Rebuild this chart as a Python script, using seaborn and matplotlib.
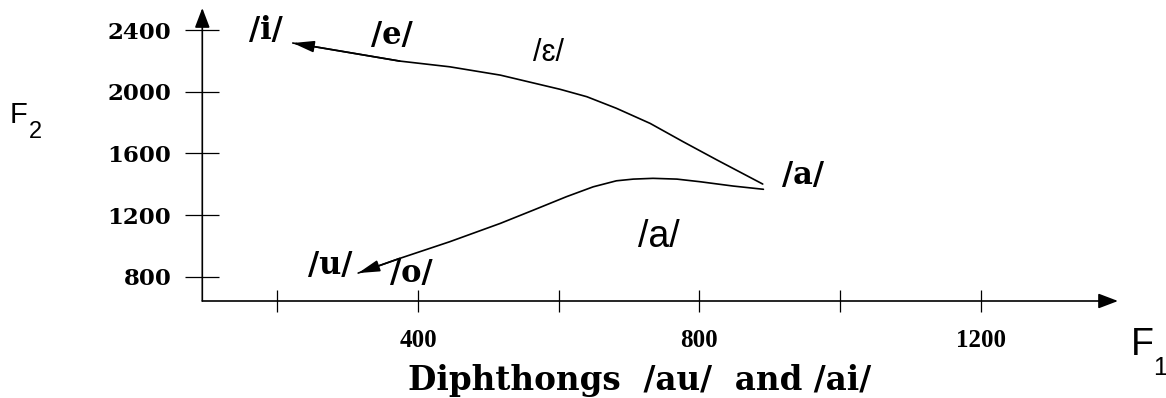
import matplotlib
matplotlib.use("Agg")
import matplotlib.pyplot as plt
import seaborn as sns

# Formant trajectories (Hz), each running from the /a/ onset toward its glide target
ai_f1 = [890, 825, 777, 730, 682, 640, 602, 517, 445, 374, 222]
ai_f2 = [1402, 1558, 1676, 1795, 1893, 1968, 2016, 2108, 2162, 2199, 2316]
au_f1 = [891, 848, 801, 768, 734, 706, 682, 649, 611, 564, 517, 445, 374, 315]
au_f2 = [1368, 1389, 1417, 1434, 1439, 1434, 1423, 1384, 1320, 1233, 1147, 1028, 920, 825]

x_ticks = [200, 400, 600, 800, 1000, 1200]
x_tick_labels = ["", "400", "", "800", "", "1200"]
y_ticks = [800, 1200, 1600, 2000, 2400]
y_tick_labels = ["800", "1200", "1600", "2000", "2400"]

# Vowel labels placed in the F1/F2 plane
vowel_text = ["/i/", "/e/", "/ɛ/", "/a/", "/a/", "/u/", "/o/"]
vowel_f1 = [184, 363, 586, 947, 743, 275, 391]
vowel_f2 = [2400, 2364, 2254, 1460, 1062, 877, 819]
vowel_bold = [True, True, False, True, False, True, True]
vowel_size = [22, 22, 22, 22, 27, 22, 22]

x_label = "Diphthongs  /au/  and /ai/"

sns.set_theme(style="white")
plt.rcParams["font.family"] = ["DejaVu Serif", "DejaVu Sans"]
plt.rcParams.update({"text.color": "black", "axes.labelcolor": "black",
                     "xtick.color": "black", "ytick.color": "black"})

W, H = 1166, 398
fig = plt.figure(figsize=(W / 100, H / 100), dpi=100)
ax = fig.add_axes([202.3 / W, 1 - 301 / H, (1118 - 202.3) / W, (301 - 8) / H])
ax.set_xlim(93.4, 1395)
ax.set_ylim(644, 2543)
for s in ax.spines.values():
    s.set_visible(False)

# Axes drawn as arrows
arrow_kw = dict(arrowstyle="-|>,head_length=1.0,head_width=0.38", color="black",
                lw=1.2, shrinkA=0, shrinkB=0, mutation_scale=12)
ax.annotate("", xy=(1, 0), xytext=(0, 0), xycoords="axes fraction",
            textcoords="axes fraction", arrowprops=arrow_kw, annotation_clip=False)
ax.annotate("", xy=(0, 1), xytext=(0, 0), xycoords="axes fraction",
            textcoords="axes fraction", arrowprops=arrow_kw, annotation_clip=False)

ax.set_xticks(x_ticks)
ax.set_xticklabels(x_tick_labels, fontfamily="Liberation Serif", fontweight="bold", fontsize=18)
ax.set_yticks(y_ticks)
ax.set_yticklabels(y_tick_labels, fontfamily="DejaVu Serif", fontweight="bold", fontsize=16.5)
ax.tick_params(axis="x", direction="inout", length=16.5, width=0.9, pad=12, bottom=True)
ax.tick_params(axis="y", direction="inout", length=24.5, width=0.9, pad=10, left=True)

# Trajectories with arrowheads at the glide targets
for f1, f2 in [(ai_f1, ai_f2), (au_f1, au_f2)]:
    sns.lineplot(x=f1, y=f2, sort=False, estimator=None, color="black", lw=1.2, ax=ax,
                 solid_joinstyle="round")
    ax.annotate("", xy=(f1[-1], f2[-1]), xytext=(f1[-2], f2[-2]),
                arrowprops=dict(arrowstyle="-|>,head_length=1.3,head_width=0.35",
                                color="black", lw=1.2, shrinkA=0, shrinkB=0,
                                mutation_scale=10))

sans = ["Liberation Sans", "DejaVu Sans"]
for t, x, y, b, fs in zip(vowel_text, vowel_f1, vowel_f2, vowel_bold, vowel_size):
    if b:
        ax.text(x, y, t, ha="center", va="center", fontsize=fs, fontweight="bold",
                fontfamily="DejaVu Serif")
    else:
        ax.text(x, y, t, ha="center", va="center", fontsize=fs, fontfamily=sans)

ax.set_xlabel(x_label, fontfamily="DejaVu Serif", fontweight="bold", fontsize=23.5)
ax.xaxis.set_label_coords((640 - 202.3) / (1118 - 202.3), (301 - 390) / (301 - 8))
ax.xaxis.label.set_va("baseline")

# Axis names F1 / F2 with offset subscripts
fig.text(10 / W, 1 - 123 / H, "F", fontsize=21, fontfamily=sans, va="baseline")
fig.text(29 / W, 1 - 138 / H, "2", fontsize=17, fontfamily=sans, va="baseline")
fig.text(1131 / W, 1 - 355 / H, "F", fontsize=27, fontfamily=sans, va="baseline")
fig.text(1153 / W, 1 - 375 / H, "1", fontsize=18, fontfamily=sans, va="baseline")

fig.savefig("out.png", dpi=100)
